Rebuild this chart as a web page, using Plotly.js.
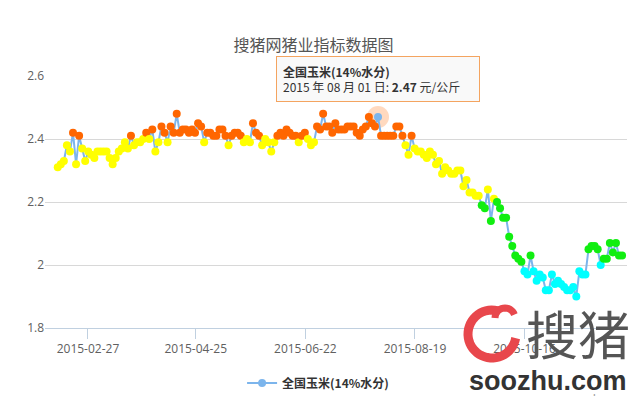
<!DOCTYPE html>
<html><head><meta charset="utf-8">
<script src="https://cdn.plot.ly/plotly-3.0.1.min.js"></script>
<style>html,body{margin:0;padding:0;background:#fff}#chart{width:640px;height:396px}</style>
</head><body><div id="chart"></div>
<script>
const chartTitle = '搜猪网猪业指标数据图';
const seriesName = '全国玉米(14%水分)';
const startDate = '2015-02-11';
const stepDays = 1.614;
const prices = [
  2.31, 2.32, 2.33, 2.38, 2.36, 2.42, 2.32, 2.41, 2.37, 2.33,
  2.36, 2.35, 2.34, 2.36, 2.36, 2.36, 2.36, 2.34, 2.32, 2.34,
  2.36, 2.37, 2.39, 2.37, 2.41, 2.38, 2.39, 2.39, 2.40, 2.42,
  2.40, 2.43, 2.36, 2.39, 2.44, 2.42, 2.39, 2.44, 2.42, 2.48,
  2.42, 2.43, 2.43, 2.42, 2.43, 2.42, 2.45, 2.44, 2.39, 2.42,
  2.42, 2.41, 2.41, 2.43, 2.43, 2.41, 2.38, 2.41, 2.42, 2.42,
  2.41, 2.39, 2.40, 2.39, 2.45, 2.42, 2.41, 2.38, 2.40, 2.39,
  2.36, 2.39, 2.41, 2.42, 2.41, 2.43, 2.42, 2.41, 2.41, 2.39,
  2.41, 2.42, 2.40, 2.38, 2.39, 2.44, 2.43, 2.48, 2.44, 2.44,
  2.42, 2.45, 2.43, 2.43, 2.43, 2.44, 2.44, 2.44, 2.42, 2.41,
  2.43, 2.44, 2.47, 2.45, 2.44, 2.47, 2.41, 2.41, 2.41, 2.41,
  2.41, 2.44, 2.44, 2.41, 2.38, 2.35, 2.41, 2.37, 2.36, 2.36,
  2.35, 2.34, 2.36, 2.35, 2.32, 2.33, 2.29, 2.31, 2.30, 2.29,
  2.29, 2.30, 2.30, 2.25, 2.27, 2.23, 2.23, 2.22, 2.22, 2.19,
  2.18, 2.24, 2.14, 2.21, 2.20, 2.18, 2.15, 2.15, 2.09, 2.06,
  2.03, 2.02, 2.01, 1.98, 1.97, 2.03, 1.98, 1.95, 1.97, 1.96,
  1.92, 1.92, 1.97, 1.94, 1.95, 1.94, 1.93, 1.92, 1.92, 1.93,
  1.90, 1.98, 1.97, 1.97, 2.05, 2.06, 2.06, 2.05, 2.00, 2.02,
  2.02, 2.07, 2.04, 2.07, 2.03, 2.03
];
const tickDates = ['2015-02-27', '2015-04-25', '2015-06-22', '2015-08-19', '2015-10-16'];
const yTicks = [1.8, 2, 2.2, 2.4, 2.6];
const hoverIndex = 105;
const hoverDateLabel = '2015 年 08 月 01 日';
const unitLabel = '元/公斤';

const DAY = 86400000;
const dxMs = stepDays * DAY;
const LINE_BLUE = '#7cb5ec';
function zoneColor(v) {
  if (v > 2.40) return '#FF6600';
  if (v > 2.20) return '#FFFF00';
  if (v > 2.00) return '#11EE11';
  return '#00FFFF';
}
const markerColors = prices.map((v, i) => i === hoverIndex ? LINE_BLUE : zoneColor(v));
function fmtDate(ms) { return new Date(ms).toISOString().slice(0, 19).replace('T', ' '); }
const hoverX = fmtDate(Date.parse(startDate + 'T00:00:00Z') + hoverIndex * dxMs);
const hoverY = prices[hoverIndex];

const CJK = '"Noto Sans CJK SC", "Open Sans", sans-serif';

const traces = [
  { type: 'scatter', mode: 'markers', x: [hoverX], y: [hoverY], showlegend: false, hoverinfo: 'skip',
    marker: { size: 22, color: 'rgba(255,102,0,0.25)' } },
  { type: 'scatter', mode: 'lines+markers', x0: startDate, dx: dxMs, y: prices, name: seriesName,
    showlegend: false, line: { color: LINE_BLUE, width: 2 },
    marker: { size: 8, color: markerColors, line: { width: 0 } } },
  { type: 'scatter', mode: 'lines+markers', x: [null], y: [null], name: seriesName,
    line: { color: LINE_BLUE, width: 2 }, marker: { size: 8, color: LINE_BLUE } }
];

// plot-area pixel -> paper helpers for decorative watermark shapes
const PL = 45, PW = 582, PT = 76, PH = 252;
const PX = px => (px - PL) / PW;
const PY = py => (PT + PH - py) / PH;
function arcPath(cx, cy, r, a0, a1, n) {
  let d = '';
  for (let k = 0; k <= n; k++) {
    const a = (a0 + (a1 - a0) * k / n) * Math.PI / 180;
    const x = PX(cx + r * Math.cos(a)), y = PY(cy - r * Math.sin(a));
    d += (k === 0 ? 'M' : 'L') + x.toFixed(4) + ',' + y.toFixed(4);
  }
  return d;
}

const layout = {
  width: 640, height: 396,
  margin: { l: 45, r: 13, t: 76, b: 68 },
  paper_bgcolor: '#ffffff', plot_bgcolor: '#ffffff',
  font: { family: CJK, color: '#666' },
  title: { text: chartTitle, font: { family: CJK, size: 16, color: '#555' },
    xref: 'container', yref: 'container', x: 0.49, y: 0.886, xanchor: 'center', yanchor: 'middle' },
  xaxis: {
    type: 'date', range: ['2015-02-04 06:00', '2015-12-09 05:00'],
    tickvals: tickDates, tickformat: '%Y-%m-%d',
    ticks: 'outside', ticklen: 10, tickcolor: '#C0D0E0', tickwidth: 1,
    showline: true, linecolor: '#C0D0E0', linewidth: 1,
    showgrid: false, zeroline: false,
    tickfont: { family: '"Open Sans", sans-serif', size: 12, color: '#606060' }
  },
  yaxis: {
    range: [1.8, 2.6], tickvals: yTicks,
    showgrid: true, gridcolor: '#D8D8D8', gridwidth: 1,
    zeroline: false, showline: false, ticks: '',
    tickfont: { family: '"Open Sans", sans-serif', size: 12, color: '#606060' }
  },
  showlegend: true,
  legend: { orientation: 'h', xref: 'container', yref: 'container', x: 0.497, y: 0.033,
    xanchor: 'center', yanchor: 'middle',
    font: { family: CJK, size: 12, color: '#333', weight: 'bold' } },
  shapes: [
    { type: 'path', xref: 'paper', yref: 'paper', path: arcPath(492, 334, 24, 70, 350, 40),
      line: { color: '#E8474C', width: 9 } },
    { type: 'path', xref: 'paper', yref: 'paper', path: arcPath(505, 318, 10, 180, 20, 16),
      line: { color: '#E8474C', width: 7 } }
  ],
  annotations: [
    { xref: 'x', yref: 'y', x: hoverX, y: hoverY, yshift: 15, xanchor: 'center', yanchor: 'bottom',
      showarrow: false, align: 'left', width: 190, height: 32,
      text: '<b>' + seriesName + '</b><br>' + hoverDateLabel + ': <b>' + hoverY.toFixed(2) + '</b> ' + unitLabel,
      font: { family: CJK, size: 12, color: '#333' },
      bgcolor: 'rgba(249,249,249,0.92)', bordercolor: '#F4A460', borderwidth: 1, borderpad: 6 },
    { xref: 'paper', yref: 'paper', x: PX(578), y: PY(332), text: '搜猪', showarrow: false,
      font: { family: CJK, size: 52, color: '#555' }, xanchor: 'center', yanchor: 'middle' },
    { xref: 'paper', yref: 'paper', x: PX(548), y: PY(381), text: '<b>soozhu.com</b>', showarrow: false,
      font: { family: '"Liberation Sans", Arial, sans-serif', size: 27, color: '#333' }, xanchor: 'center', yanchor: 'middle' },
    { xref: 'paper', yref: 'paper', x: PX(585), y: PY(399), text: 'www.soozhu.com', showarrow: false,
      font: { family: '"Liberation Sans", Arial, sans-serif', size: 12, color: '#999' }, xanchor: 'center', yanchor: 'middle' }
  ]
};

Plotly.newPlot('chart', traces, layout, { displayModeBar: false, staticPlot: true });
</script></body></html>
